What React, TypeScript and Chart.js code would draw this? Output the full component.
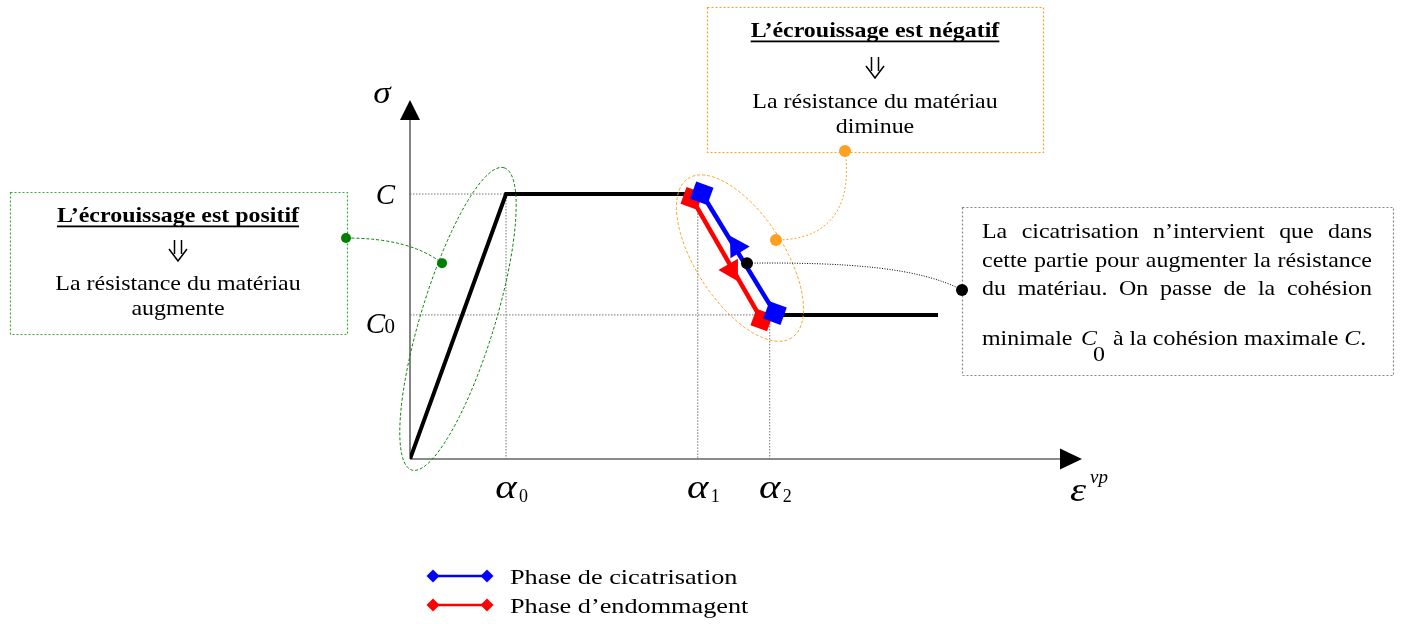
import React, { useEffect, useRef } from 'react';
import { Chart, registerables } from 'chart.js';

Chart.register(...registerables);

// ---- data (diagram units: x = ε^vp, y = σ) ----
const elasticX = [0, 14.55, 43.6];
const elasticY = [0, 73.2, 73.2];
const residualX = [55.3, 80];
const residualY = [39.8, 39.8];
const healingX = [44.2, 55.3];
const healingY = [73.4, 40.3];
const damageX = [42.7, 53.3];
const damageY = [72.0, 38.4];
const healingArrow = [49.5, 58.6];
const damageArrow = [48.7, 52.2];

const yTickValues = [73.2, 39.8];
const yTickNames = ['C', 'C'];
const yTickSubs = ['', '0'];
const xTickValues = [14.55, 43.6, 54.5];
const xTickSubs = ['0', '1', '2'];

const legendLabels = ['Phase de cicatrisation', 'Phase d\u2019endommagent'];
const legendColors = ['#0000ff', '#ff0000'];

// annotation anchors in diagram units
const greenEllipseCenter = [7.27, 38.7];
const orangeEllipseCenter = [50, 55.5];
const greenDot = [4.85, 54.1];
const orangeDot = [55.45, 60.5];
const blackDot = [51.06, 54.1];

const greenBoxLines = ['L\u2019\u00e9crouissage est positif', 'La r\u00e9sistance du mat\u00e9riau', 'augmente'];
const orangeBoxLines = ['L\u2019\u00e9crouissage est n\u00e9gatif', 'La r\u00e9sistance du mat\u00e9riau', 'diminue'];
const grayBoxLines = [
  'La cicatrisation n\u2019intervient que dans',
  'cette partie pour augmenter la r\u00e9sistance',
  'du mat\u00e9riau. On passe de la coh\u00e9sion',
];

const W = 1401;
const H = 624;
const SX = 1.14;
const SERIF = '"Liberation Serif", "Times New Roman", serif';

const pts = (xs: number[], ys: number[]) => xs.map((x, i) => ({ x, y: ys[i] }));

function drawText(
  ctx: CanvasRenderingContext2D,
  str: string,
  x: number,
  y: number,
  font: string,
  align: 'left' | 'center' | 'right' = 'left',
  sx = SX,
  color = '#000'
) {
  ctx.save();
  ctx.font = font;
  ctx.fillStyle = color;
  ctx.textBaseline = 'alphabetic';
  ctx.textAlign = 'left';
  const w = ctx.measureText(str).width * sx;
  let left = x;
  if (align === 'center') left = x - w / 2;
  else if (align === 'right') left = x - w;
  ctx.translate(left, y);
  ctx.scale(sx, 1);
  ctx.fillText(str, 0, 0);
  ctx.restore();
  return { left, w };
}

function drawJustified(ctx: CanvasRenderingContext2D, str: string, left: number, right: number, y: number, font: string) {
  const words = str.split(' ');
  ctx.save();
  ctx.font = font;
  const widths = words.map((w) => ctx.measureText(w).width * SX);
  ctx.restore();
  const total = widths.reduce((a, b) => a + b, 0);
  const gap = (right - left - total) / (words.length - 1);
  let x = left;
  words.forEach((w, i) => {
    drawText(ctx, w, x, y, font);
    x += widths[i] + gap;
  });
}

function downArrow(ctx: CanvasRenderingContext2D, cx: number, top: number) {
  ctx.save();
  ctx.strokeStyle = '#000';
  ctx.lineWidth = 1.5;
  ctx.lineJoin = 'miter';
  ctx.beginPath();
  ctx.moveTo(cx - 3.5, top);
  ctx.lineTo(cx - 3.5, top + 14);
  ctx.moveTo(cx + 3.5, top);
  ctx.lineTo(cx + 3.5, top + 14);
  ctx.moveTo(cx - 9, top + 9);
  ctx.lineTo(cx, top + 21);
  ctx.lineTo(cx + 9, top + 9);
  ctx.stroke();
  ctx.restore();
}

function dot(ctx: CanvasRenderingContext2D, x: number, y: number, r: number, color: string) {
  ctx.save();
  ctx.fillStyle = color;
  ctx.beginPath();
  ctx.arc(x, y, r, 0, Math.PI * 2);
  ctx.fill();
  ctx.restore();
}

function dottedBox(ctx: CanvasRenderingContext2D, x1: number, y1: number, x2: number, y2: number, color: string) {
  ctx.save();
  ctx.strokeStyle = color;
  ctx.lineWidth = 1.2;
  ctx.setLineDash([2, 2]);
  ctx.strokeRect(x1 + 0.5, y1 + 0.5, x2 - x1, y2 - y1);
  ctx.restore();
}

const diagramPlugin = {
  id: 'diagram',
  beforeDatasetsDraw(chart: any) {
    const ctx: CanvasRenderingContext2D = chart.ctx;
    const xs = chart.scales.x;
    const ys = chart.scales.y;
    const px = (v: number) => xs.getPixelForValue(v);
    const py = (v: number) => ys.getPixelForValue(v);
    const x0 = px(0);
    const y0 = py(0);

    // guide lines
    ctx.save();
    ctx.strokeStyle = '#777';
    ctx.lineWidth = 1;
    ctx.setLineDash([1.5, 1.5]);
    ctx.beginPath();
    ctx.moveTo(x0, py(yTickValues[0]));
    ctx.lineTo(px(xTickValues[0]), py(yTickValues[0]));
    ctx.moveTo(x0, py(yTickValues[1]));
    ctx.lineTo(px(xTickValues[2]), py(yTickValues[1]));
    ctx.moveTo(px(xTickValues[0]), py(yTickValues[0]));
    ctx.lineTo(px(xTickValues[0]), y0);
    ctx.moveTo(px(xTickValues[1]), py(damageY[0]));
    ctx.lineTo(px(xTickValues[1]), y0);
    ctx.moveTo(px(xTickValues[2]), py(damageY[1]));
    ctx.lineTo(px(xTickValues[2]), y0);
    ctx.stroke();
    ctx.restore();

    // axes
    const top = chart.chartArea.top + 3;
    const right = chart.chartArea.right + 12;
    ctx.save();
    ctx.strokeStyle = '#666';
    ctx.lineWidth = 1.6;
    ctx.beginPath();
    ctx.moveTo(x0, y0);
    ctx.lineTo(x0, top + 19);
    ctx.moveTo(x0, y0);
    ctx.lineTo(right - 22, y0);
    ctx.stroke();
    ctx.fillStyle = '#000';
    ctx.beginPath();
    ctx.moveTo(x0, top);
    ctx.lineTo(x0 - 10, top + 20);
    ctx.lineTo(x0 + 10, top + 20);
    ctx.closePath();
    ctx.fill();
    ctx.beginPath();
    ctx.moveTo(right, y0);
    ctx.lineTo(right - 22, y0 - 10.5);
    ctx.lineTo(right - 22, y0 + 10.5);
    ctx.closePath();
    ctx.fill();
    ctx.restore();
  },
  afterDatasetsDraw(chart: any) {
    const ctx: CanvasRenderingContext2D = chart.ctx;
    const xs = chart.scales.x;
    const ys = chart.scales.y;
    const px = (v: number) => xs.getPixelForValue(v);
    const py = (v: number) => ys.getPixelForValue(v);
    const x0 = px(0);
    const y0 = py(0);
    const body = `21px ${SERIF}`;
    const ital = `italic 21px ${SERIF}`;

    // ellipses
    ctx.save();
    ctx.lineWidth = 1;
    ctx.setLineDash([3, 2]);
    ctx.strokeStyle = '#008000';
    ctx.beginPath();
    ctx.ellipse(px(greenEllipseCenter[0]), py(greenEllipseCenter[1]), 158, 37, (-73 * Math.PI) / 180, 0, Math.PI * 2);
    ctx.stroke();
    ctx.strokeStyle = '#ffa020';
    ctx.beginPath();
    ctx.ellipse(px(orangeEllipseCenter[0]), py(orangeEllipseCenter[1]), 95, 44, (57 * Math.PI) / 180, 0, Math.PI * 2);
    ctx.stroke();
    ctx.restore();

    // boxes
    dottedBox(ctx, 10, 192, 347, 334, '#3aa83a');
    dottedBox(ctx, 707, 7, 1043, 152, '#ffa020');
    dottedBox(ctx, 962, 207, 1393, 375, '#888');

    // leaders
    const gd = [px(greenDot[0]), py(greenDot[1])];
    const od = [px(orangeDot[0]), py(orangeDot[1])];
    const bd = [px(blackDot[0]), py(blackDot[1])];
    ctx.save();
    ctx.lineWidth = 1;
    ctx.setLineDash([3, 2]);
    ctx.strokeStyle = '#008000';
    ctx.beginPath();
    ctx.moveTo(346, 238);
    ctx.quadraticCurveTo(410, 238, gd[0], gd[1]);
    ctx.stroke();
    ctx.setLineDash([2, 2]);
    ctx.strokeStyle = '#ffa020';
    ctx.beginPath();
    ctx.moveTo(845, 151);
    ctx.bezierCurveTo(852, 200, 835, 240, od[0], od[1]);
    ctx.stroke();
    ctx.setLineDash([1, 1.5]);
    ctx.strokeStyle = '#000';
    ctx.beginPath();
    ctx.moveTo(bd[0], bd[1]);
    ctx.bezierCurveTo(850, 262, 920, 268, 962, 290);
    ctx.stroke();
    ctx.restore();

    dot(ctx, 346, 238, 5, '#008000');
    dot(ctx, gd[0], gd[1], 5, '#008000');
    dot(ctx, 845, 151, 6, '#ffa020');
    dot(ctx, od[0], od[1], 6, '#ffa020');
    dot(ctx, bd[0], bd[1], 6, '#000');
    dot(ctx, 962, 290, 6, '#000');

    // green box text
    const bold = `bold 21px ${SERIF}`;
    let t = drawText(ctx, greenBoxLines[0], 178, 222, bold, 'center');
    ctx.fillRect(t.left, 225.5, t.w, 1.8);
    downArrow(ctx, 178, 240);
    drawText(ctx, greenBoxLines[1], 178, 290, body, 'center');
    drawText(ctx, greenBoxLines[2], 178, 315, body, 'center');

    // orange box text
    t = drawText(ctx, orangeBoxLines[0], 875, 37, bold, 'center');
    ctx.fillRect(t.left, 40.5, t.w, 1.8);
    downArrow(ctx, 875, 57);
    drawText(ctx, orangeBoxLines[1], 875, 108, body, 'center');
    drawText(ctx, orangeBoxLines[2], 875, 133, body, 'center');

    // gray box text
    const gb = [238, 267, 295];
    grayBoxLines.forEach((l, i) => drawJustified(ctx, l, 982, 1372, gb[i], body));
    drawText(ctx, 'minimale', 982, 345, body);
    drawText(ctx, 'C', 1081, 345, ital);
    drawText(ctx, '0', 1093, 361, body);
    const r1 = drawText(ctx, '\u00e0 la coh\u00e9sion maximale ', 1113, 345, body);
    const r2 = drawText(ctx, 'C', r1.left + r1.w, 345, ital);
    drawText(ctx, '.', r2.left + r2.w, 345, body);

    // axis labels
    drawText(ctx, '\u03c3', x0 - 28, 103, `italic 32px ${SERIF}`, 'center', 1.1);
    yTickValues.forEach((v, i) => {
      const y = py(v) + 10;
      if (yTickSubs[i]) {
        drawText(ctx, yTickSubs[i], x0 - 15, y + 8, `21px ${SERIF}`, 'right', 1);
        drawText(ctx, yTickNames[i], x0 - 25, y + 8, `italic 29px ${SERIF}`, 'right', 1);
      } else {
        drawText(ctx, yTickNames[i], x0 - 15, y, `italic 29px ${SERIF}`, 'right', 1);
      }
    });
    xTickValues.forEach((v, i) => {
      const x = px(v);
      drawText(ctx, '\u03b1', x, y0 + 39, `italic 34px ${SERIF}`, 'center', 1.2);
      drawText(ctx, xTickSubs[i], x + 13, y0 + 43, `18px ${SERIF}`, 'left', 1);
    });
    drawText(ctx, '\u03b5', chart.chartArea.right, y0 + 42, `italic 34px ${SERIF}`, 'left', 1.2);
    drawText(ctx, 'vp', chart.chartArea.right + 20, y0 + 24, `italic 19px ${SERIF}`, 'left', 1);

    // legend
    legendLabels.forEach((lab, i) => {
      const y = 576 + i * 29;
      ctx.save();
      ctx.strokeStyle = legendColors[i];
      ctx.fillStyle = legendColors[i];
      ctx.lineWidth = 2.5;
      ctx.beginPath();
      ctx.moveTo(433, y);
      ctx.lineTo(487, y);
      ctx.stroke();
      [433, 487].forEach((cx) => {
        ctx.beginPath();
        ctx.moveTo(cx, y - 6.5);
        ctx.lineTo(cx + 6.5, y);
        ctx.lineTo(cx, y + 6.5);
        ctx.lineTo(cx - 6.5, y);
        ctx.closePath();
        ctx.fill();
      });
      ctx.restore();
      drawText(ctx, lab, 510, y + 8, `21px ${SERIF}`, 'left', 1.25);
    });
  },
};

export default function App() {
  const ref = useRef<HTMLCanvasElement | null>(null);

  useEffect(() => {
    document.body.style.margin = '0';
    const canvas = ref.current!;
    const chart = new Chart(canvas, {
      type: 'scatter',
      data: {
        datasets: [
          {
            label: 'fl\u00e8che cicatrisation',
            data: [{ x: healingArrow[0], y: healingArrow[1] }],
            pointStyle: 'triangle',
            pointRadius: 13,
            pointRotation: -31.5,
            backgroundColor: '#0000ff',
            borderColor: '#0000ff',
            pointBorderWidth: 0,
            order: 1,
          },
          {
            label: 'fl\u00e8che endommagement',
            data: [{ x: damageArrow[0], y: damageArrow[1] }],
            pointStyle: 'triangle',
            pointRadius: 13,
            pointRotation: 150,
            backgroundColor: '#ff0000',
            borderColor: '#ff0000',
            pointBorderWidth: 0,
            order: 1,
          },
          {
            label: legendLabels[0],
            data: pts(healingX, healingY),
            showLine: true,
            borderColor: '#0000ff',
            backgroundColor: '#0000ff',
            borderWidth: 4.5,
            pointStyle: 'rect',
            pointRadius: 13,
            pointRotation: 20,
            pointBorderWidth: 0,
            order: 2,
          },
          {
            label: legendLabels[1],
            data: pts(damageX, damageY),
            showLine: true,
            borderColor: '#ff0000',
            backgroundColor: '#ff0000',
            borderWidth: 4.5,
            pointStyle: 'rect',
            pointRadius: 12.5,
            pointRotation: 20,
            pointBorderWidth: 0,
            order: 3,
          },
          {
            label: 'courbe',
            data: pts(elasticX, elasticY),
            showLine: true,
            borderColor: '#000',
            borderWidth: 4,
            pointRadius: 0,
            order: 5,
          },
          {
            label: 'courbe r\u00e9siduelle',
            data: pts(residualX, residualY),
            showLine: true,
            borderColor: '#000',
            borderWidth: 4,
            pointRadius: 0,
            order: 5,
          },
        ],
      },
      options: {
        responsive: false,
        animation: false,
        devicePixelRatio: 1,
        events: [],
        layout: { padding: { left: 410, top: 97, right: W - 1070, bottom: H - 459 } },
        scales: {
          x: { type: 'linear', min: 0, max: 100, display: false },
          y: { type: 'linear', min: 0, max: 100, display: false },
        },
        plugins: {
          legend: { display: false },
          tooltip: { enabled: false },
        },
      },
      plugins: [diagramPlugin],
    });
    return () => chart.destroy();
  }, []);

  return (
    <div style={{ position: 'fixed', left: 0, top: 0, width: W, height: H, background: '#fff' }}>
      <canvas ref={ref} width={W} height={H} style={{ width: W, height: H, display: 'block' }} />
    </div>
  );
}
